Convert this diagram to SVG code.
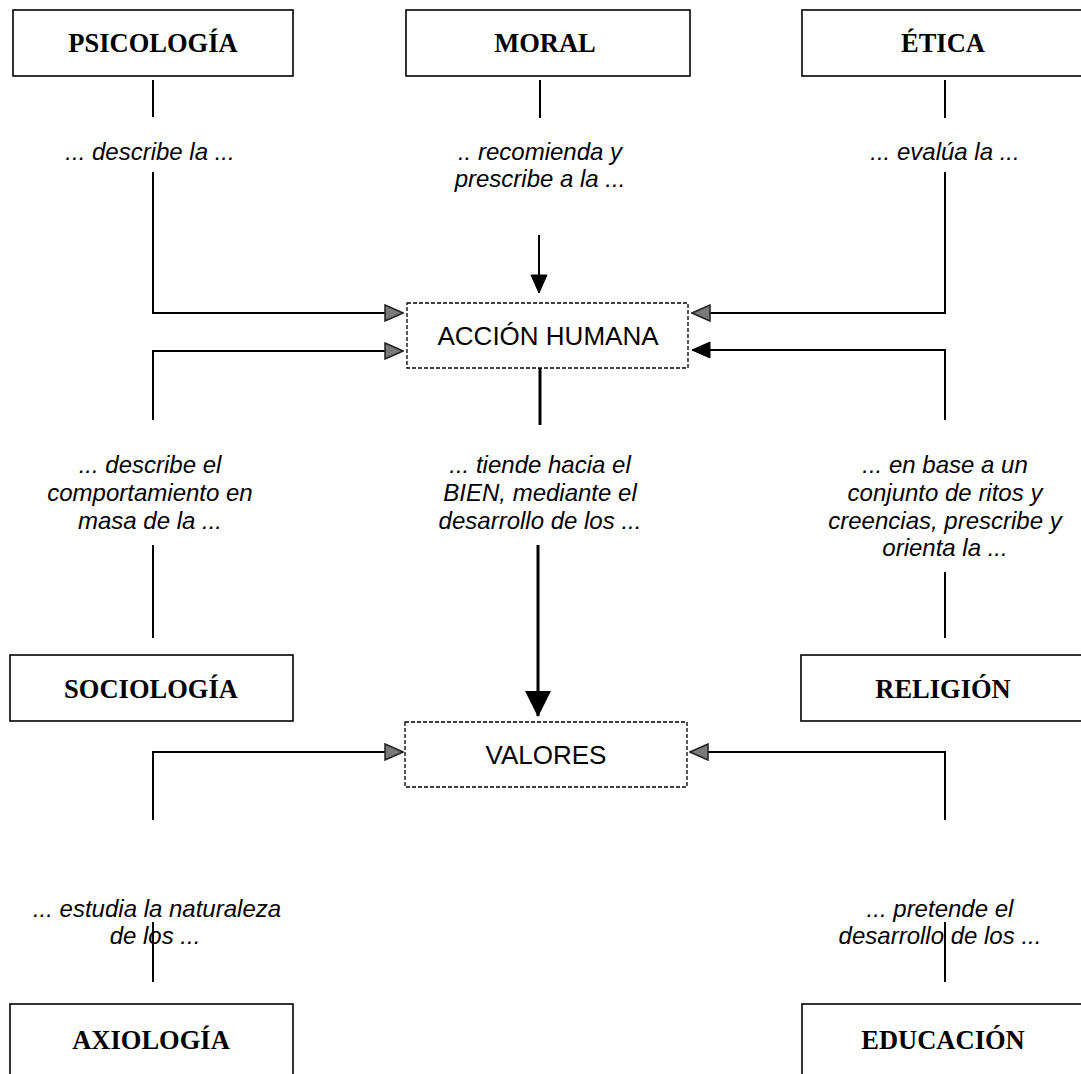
<svg xmlns="http://www.w3.org/2000/svg" width="1081" height="1074" viewBox="0 0 1081 1074">
<defs>
<style>
.box{fill:#fff;stroke:#000;stroke-width:1.6}
.dbox{fill:#fff;stroke:#000;stroke-width:1.3;stroke-dasharray:4 2}
.title{font-family:"Liberation Serif","Times New Roman",serif;font-weight:bold;font-size:26.5px;text-anchor:middle;fill:#000}
.ctr{font-family:"Liberation Sans",Arial,sans-serif;font-size:26px;text-anchor:middle;fill:#000}
.lbl{font-family:"Liberation Sans",Arial,sans-serif;font-style:italic;font-size:24px;text-anchor:middle;fill:#000}
.ln{fill:none;stroke:#000;stroke-width:2}
.thick{fill:none;stroke:#000;stroke-width:3}
</style>
<marker id="gray" markerUnits="userSpaceOnUse" viewBox="0 0 20 18" markerWidth="20" markerHeight="18" refX="19" refY="9" orient="auto">
<path d="M1,1 L19,9 L1,17 Z" fill="#7a7a7a" stroke="#222" stroke-width="1.5"/>
</marker>
<marker id="black" markerUnits="userSpaceOnUse" viewBox="0 0 20 18" markerWidth="20" markerHeight="18" refX="19" refY="9" orient="auto">
<path d="M1,1 L19,9 L1,17 Z" fill="#000" stroke="#000" stroke-width="1"/>
</marker>
<marker id="big" markerUnits="userSpaceOnUse" viewBox="0 0 26 26" markerWidth="26" markerHeight="26" refX="25" refY="13" orient="auto">
<path d="M0,0 L26,13 L0,26 Z" fill="#000"/>
</marker>
</defs>
<rect width="1081" height="1074" fill="#fff"/>

<g id="connectors">
<line class="ln" x1="153" y1="80" x2="153" y2="117"/>
<path class="ln" d="M153,172 V313 H403" marker-end="url(#gray)"/>
<line class="ln" x1="540" y1="80" x2="540" y2="118"/>
<line class="ln" x1="539" y1="235" x2="539" y2="293" marker-end="url(#black)"/>
<line class="ln" x1="945" y1="80" x2="945" y2="118"/>
<path class="ln" d="M945,172 V313 H692" marker-end="url(#gray)"/>
<path class="ln" d="M153,420 V351 H403" marker-end="url(#gray)"/>
<line class="ln" x1="153" y1="545" x2="153" y2="638"/>
<path class="ln" d="M945,420 V350 H692" marker-end="url(#black)"/>
<line class="ln" x1="945" y1="572" x2="945" y2="638"/>
<line class="thick" x1="540" y1="368" x2="540" y2="425"/>
<line class="thick" x1="538" y1="545" x2="538" y2="716" marker-end="url(#big)"/>
<path class="ln" d="M153,820 V752 H403" marker-end="url(#gray)"/>
<line class="ln" x1="153" y1="922" x2="153" y2="982"/>
<path class="ln" d="M945,820 V752 H690" marker-end="url(#gray)"/>
<line class="ln" x1="945" y1="922" x2="945" y2="982"/>

<text class="lbl" x="150" y="160">...  describe la ...</text>
<text class="lbl" x="540" y="160">.. recomienda y</text>
<text class="lbl" x="540" y="187">prescribe a la ...</text>
<text class="lbl" x="945" y="160">... evalúa la ...</text>
<text class="lbl" x="150" y="473">... describe el</text>
<text class="lbl" x="150" y="501">comportamiento en</text>
<text class="lbl" x="150" y="529">masa de la ...</text>
<text class="lbl" x="540" y="473">... tiende hacia el</text>
<text class="lbl" x="540" y="501">BIEN, mediante el</text>
<text class="lbl" x="540" y="529">desarrollo de los ...</text>
<text class="lbl" x="945" y="473">... en base a un</text>
<text class="lbl" x="945" y="501">conjunto de ritos y</text>
<text class="lbl" x="945" y="529">creencias, prescribe y</text>
<text class="lbl" x="945" y="556">orienta la ...</text>
<text class="lbl" x="157" y="917">...  estudia la naturaleza</text>
<text class="lbl" x="155" y="944">de los ...</text>
<text class="lbl" x="940" y="917">... pretende el</text>
<text class="lbl" x="940" y="944">desarrollo de los ...</text>
</g>

<g id="psicologia"><rect class="box" x="13" y="10" width="280" height="66"/><text class="title" x="153" y="52">PSICOLOGÍA</text></g>
<g id="moral"><rect class="box" x="406" y="10" width="284" height="66"/><text class="title" x="545" y="52">MORAL</text></g>
<g id="etica"><rect class="box" x="802" y="10" width="290" height="66"/><text class="title" x="943" y="52">ÉTICA</text></g>
<g id="accion-humana"><rect class="dbox" x="407" y="303" width="281" height="65"/><text class="ctr" x="548" y="345">ACCIÓN HUMANA</text></g>
<g id="sociologia"><rect class="box" x="10" y="655" width="283" height="66"/><text class="title" x="151" y="698">SOCIOLOGÍA</text></g>
<g id="religion"><rect class="box" x="801" y="655" width="291" height="66"/><text class="title" x="943" y="698">RELIGIÓN</text></g>
<g id="valores"><rect class="dbox" x="405" y="722" width="282" height="65"/><text class="ctr" x="546" y="764">VALORES</text></g>
<g id="axiologia"><rect class="box" x="10" y="1004" width="283" height="90"/><text class="title" x="151" y="1049">AXIOLOGÍA</text></g>
<g id="educacion"><rect class="box" x="802" y="1004" width="290" height="90"/><text class="title" x="943" y="1049">EDUCACIÓN</text></g>
</svg>
